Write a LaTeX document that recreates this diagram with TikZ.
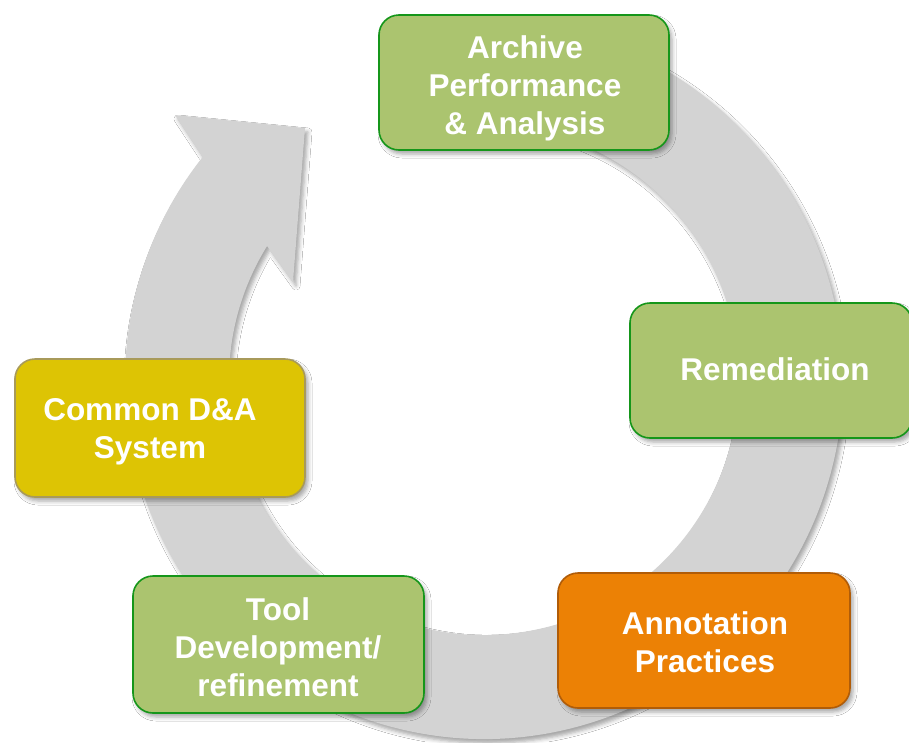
\documentclass[tikz,border=0pt]{standalone}
\usepackage{fontspec}
\setmainfont{Liberation Sans}
\usetikzlibrary{calc,shadows.blur}

\definecolor{ringgray}{HTML}{D3D3D3}
\definecolor{leaf}{HTML}{ABC46F}
\definecolor{leafedge}{HTML}{15961A}
\definecolor{mustard}{HTML}{DDC404}
\definecolor{mustardedge}{HTML}{A89A5A}
\definecolor{amber}{HTML}{EC8105}
\definecolor{amberedge}{HTML}{B05C08}

\tikzset{
  softshadow/.style={blur shadow={shadow xshift=3pt, shadow yshift=-4pt,
      shadow blur radius=4pt, shadow opacity=35}},
  stagebox/.style={rectangle, rounded corners=20pt, line width=1.6pt,
      softshadow, inner sep=0pt},
  greenbox/.style={stagebox, fill=leaf, draw=leafedge},
  yellowbox/.style={stagebox, fill=mustard, draw=mustardedge},
  orangebox/.style={stagebox, fill=amber, draw=amberedge},
  stagetext/.style={text=white, align=center, inner sep=0pt,
      font=\fontsize{31.5}{38}\selectfont\bfseries},
}

\begin{document}
\begin{tikzpicture}[x=1pt, y=-1pt]
  \useasboundingbox (0,0) rectangle (909,742);
  \fill[white] (0,0) rectangle (909,742);

  % circular arrow: centre of the ring
  \coordinate (c) at (484,380);
  \coordinate (headback) at (175,115);
  \coordinate (headtip) at (305,128);
  \coordinate (headfront) at (293,282);

  \fill[ringgray, softshadow]
    ($(c)+(75:359pt)$) arc[start angle=75, end angle=-218.4, radius=359pt]
    -- (headback) -- (headtip) -- (headfront)
    -- ($(c)+(-211.7:255pt)$) arc[start angle=-211.7, end angle=75, radius=255pt]
    -- cycle;

  % stage boxes
  \node[greenbox, minimum width=290pt, minimum height=135pt] (archive) at (524,82.5) {};
  \node[greenbox, minimum width=282pt, minimum height=135pt] (remediation) at (771,370.5) {};
  \node[orangebox, minimum width=292pt, minimum height=135pt] (annotation) at (704,640.5) {};
  \node[greenbox, minimum width=291pt, minimum height=137pt] (tool) at (278.5,644.5) {};
  \node[yellowbox, minimum width=290pt, minimum height=138pt] (common) at (160,428) {};

  % stage labels
  \node[stagetext] (archivetext) at (525,88) {Archive\\Performance\\\& Analysis};
  \node[stagetext] (remediationtext) at (775,369) {Remediation};
  \node[stagetext] (annotationtext) at (705,642) {Annotation\\Practices};
  \node[stagetext] (tooltext) at (278,647) {Tool\\Development/\\refinement};
  \node[stagetext] (commontext) at (150,432) {Common D\&A\\System};
\end{tikzpicture}
\end{document}
